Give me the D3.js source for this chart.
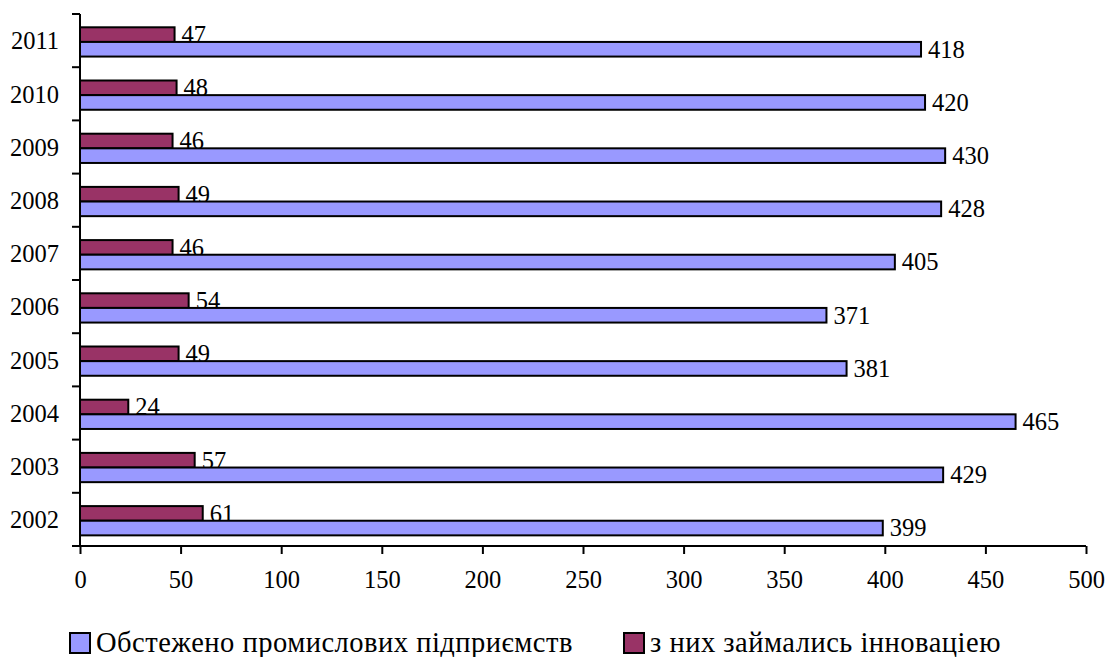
<!DOCTYPE html>
<html>
<head>
<meta charset="utf-8">
<script src="https://cdn.jsdelivr.net/npm/d3@7"></script>
<style>
  body { margin: 0; background: #fff; }
  svg text { font-family: "Liberation Serif", "Times New Roman", serif; fill: #000; }
</style>
</head>
<body>
<svg></svg>
<script>
const years = ["2002", "2003", "2004", "2005", "2006", "2007", "2008", "2009", "2010", "2011"],
  surveyed = [399, 429, 465, 381, 371, 405, 428, 430, 420, 418],
  innovative = [61, 57, 24, 49, 54, 46, 49, 46, 48, 47],
  seriesNames = ["Обстежено промислових підприємств", "з них займались інноваціею"],
  xTicks = [0, 50, 100, 150, 200, 250, 300, 350, 400, 450, 500];

const W = 1107,
  H = 657,
  margin = { top: 14, right: 23, bottom: 111, left: 80 },
  colors = { surveyed: "#9999ff", innovative: "#993366" },
  fontSize = 24.5;

var svg = d3.select("svg").attr("width", W).attr("height", H);

var x = d3.scaleLinear().domain([0, 500]).range([margin.left, W - margin.right + 2]);
var y = d3
  .scaleBand()
  .domain(years.slice().reverse())
  .range([margin.top, H - margin.bottom])
  .padding(0);
var bw = y.bandwidth();
// two bars inside each band: innovative on top, surveyed below
var sub = d3.scaleBand().domain(["innovative", "surveyed"]).range([bw * 0.25, bw * 0.8]).padding(0);

var rows = years.map((yr, i) => ({ year: yr, surveyed: surveyed[i], innovative: innovative[i] }));

// bars
["innovative", "surveyed"].forEach(key => {
  svg
    .append("g")
    .selectAll("rect")
    .data(rows)
    .enter()
    .append("rect")
    .attr("x", x(0))
    .attr("y", d => y(d.year) + sub(key))
    .attr("width", d => x(d[key]) - x(0))
    .attr("height", sub.bandwidth())
    .attr("fill", colors[key])
    .attr("stroke", "#000")
    .attr("stroke-width", 2);

  svg
    .append("g")
    .selectAll("text")
    .data(rows)
    .enter()
    .append("text")
    .attr("x", d => x(d[key]) + 7)
    .attr("y", d => y(d.year) + sub(key) + sub.bandwidth() / 2)
    .attr("dy", "0.34em")
    .attr("font-size", fontSize)
    .text(d => d[key]);
});

// x axis
var xAxis = d3.axisBottom(x).tickValues(xTicks).tickSize(8).tickSizeOuter(0).tickPadding(17);
var gx = svg
  .append("g")
  .attr("transform", "translate(0," + (H - margin.bottom) + ")")
  .call(xAxis);
gx.select(".domain").attr("stroke-width", 2).attr("d", "M" + x(0) + ",0H" + x(500));
gx.selectAll(".tick line").attr("stroke-width", 2);
gx.selectAll("text").attr("font-size", fontSize);

// y axis
var yAxis = d3.axisLeft(y).tickSize(0).tickPadding(21);
var gy = svg
  .append("g")
  .attr("transform", "translate(" + x(0) + ",0)")
  .call(yAxis);
gy.select(".domain").attr("stroke-width", 2).attr("d", "M0," + margin.top + "V" + (H - margin.bottom));
gy.selectAll("text").attr("font-size", fontSize).attr("dy", "0.36em");

// tick marks between categories
var bounds = years.map(yr => y(yr)).concat([y(years[0]) + bw]);
gy.selectAll(".bound")
  .data(bounds)
  .enter()
  .append("line")
  .attr("x1", -8)
  .attr("x2", 0)
  .attr("y1", d => d)
  .attr("y2", d => d)
  .attr("stroke", "#000")
  .attr("stroke-width", 2);

// legend
var legendItems = [
  { name: seriesNames[0], color: colors.surveyed, x: 70 },
  { name: seriesNames[1], color: colors.innovative, x: 624 }
];
var lg = svg
  .append("g")
  .selectAll("g")
  .data(legendItems)
  .enter()
  .append("g")
  .attr("transform", d => "translate(" + d.x + ",633)");
lg.append("rect")
  .attr("width", 20)
  .attr("height", 20)
  .attr("fill", d => d.color)
  .attr("stroke", "#000")
  .attr("stroke-width", 2);
lg.append("text")
  .attr("x", 26)
  .attr("y", 19)
  .attr("font-size", 28.5)
  .attr("letter-spacing", "0.5px")
  .text(d => d.name);
</script>
</body>
</html>
